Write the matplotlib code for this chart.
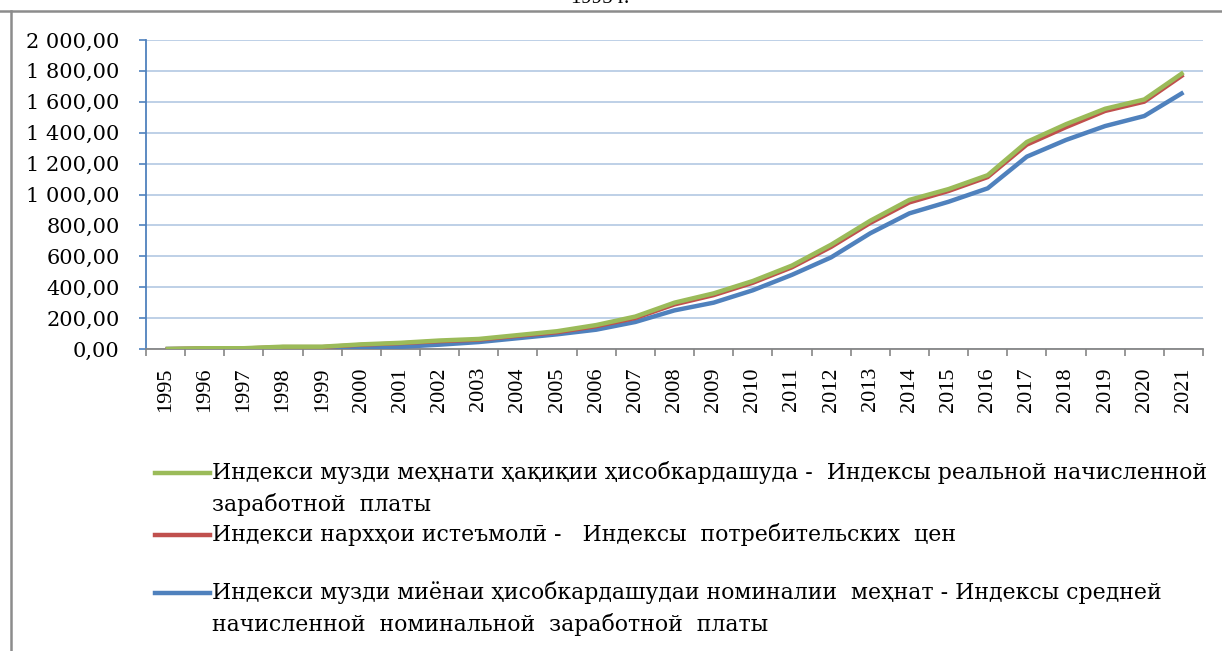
import matplotlib
matplotlib.use("Agg")
import matplotlib.pyplot as plt
from matplotlib.lines import Line2D
from matplotlib.ticker import FuncFormatter, FixedLocator

years = [str(y) for y in range(1995, 2022)]
real_wage = [0, 5, 5, 15, 15, 30, 40, 55, 65, 90, 115, 155, 210, 300, 360, 440,
             540, 675, 830, 965, 1035, 1125, 1340, 1455, 1555, 1615, 1790]
cpi = [0, 4, 4, 13, 13, 27, 37, 50, 60, 85, 108, 147, 200, 288, 348, 428,
       528, 660, 815, 948, 1022, 1112, 1322, 1435, 1540, 1600, 1775]
nominal_wage = [0, 1, 1, 3, 4, 8, 14, 28, 45, 70, 95, 125, 175, 250, 300, 380,
                480, 593, 749, 878, 953, 1040, 1245, 1353, 1443, 1508, 1661]

labels = [
    "Индекси музди меҳнати ҳақиқии ҳисобкардашуда -  Индексы реальной начисленной\nзаработной  платы",
    "Индекси нархҳои истеъмолӣ -   Индексы  потребительских  цен",
    "Индекси музди миёнаи ҳисобкардашудаи номиналии  меҳнат - Индексы средней\nначисленной  номинальной  заработной  платы",
]
colors = ["#9bbb59", "#c0504d", "#4f81bd"]

serif = ["Liberation Serif", "DejaVu Serif"]
wide_serif = ["DejaVu Serif"]

fig = plt.figure(figsize=(12.22, 6.51), dpi=100)
ax = fig.add_axes([146/1222, 1-349/651, (1203-146)/1222, (349-40)/651])

x = list(range(len(years)))
ax.plot(x, nominal_wage, color=colors[2], lw=3.2, solid_capstyle="butt", zorder=3)
ax.plot(x, cpi, color=colors[1], lw=3.0, solid_capstyle="butt", zorder=4)
ax.plot(x, real_wage, color=colors[0], lw=3.2, solid_capstyle="butt", zorder=5)

ax.set_xlim(-0.5, len(years) - 0.5)
ax.set_ylim(0, 2000)
ax.set_yticks(range(0, 2001, 200))

def fmt(v, pos):
    s = f"{v:,.2f}"
    return s.replace(",", " ").replace(".", ",")
ax.yaxis.set_major_formatter(FuncFormatter(fmt))

ax.set_xticks(x)
ax.set_xticklabels(years, rotation=90, fontfamily=serif, fontsize=16)
ax.xaxis.set_minor_locator(FixedLocator([i - 0.5 for i in range(len(years) + 1)]))
ax.tick_params(axis="x", which="major", length=0, pad=13)
ax.tick_params(axis="x", which="minor", length=5, color="#868686", width=1.2)
ax.tick_params(axis="y", length=5, color="#4f81bd", width=1.2, pad=14)
for lab in ax.get_yticklabels():
    lab.set_fontfamily(wide_serif)
    lab.set_fontsize(15)

ax.grid(axis="y", color="#b9cde5", lw=1.3)
ax.set_axisbelow(True)
for s in ["top", "right"]:
    ax.spines[s].set_visible(False)
ax.spines["left"].set_color("#4f81bd")
ax.spines["left"].set_linewidth(1.3)
ax.spines["bottom"].set_color("#868686")
ax.spines["bottom"].set_linewidth(1.3)

# frame lines
fig.add_artist(Line2D([0, 1], [1-10.5/651]*2, color="#8c8c8c", lw=1.8, transform=fig.transFigure))
fig.add_artist(Line2D([10.5/1222]*2, [0, 1-10.5/651], color="#8c8c8c", lw=1.8, transform=fig.transFigure))

# partially clipped title (cut off at the top edge, as in the reference)
fig.text(600/1222, 1-3/651, "1995 г.", ha="center", va="baseline", fontfamily=serif, fontsize=15)

# legend
entries_y = [473, 535, 593]
for lab, col, yy in zip(labels, colors, entries_y):
    yf = 1 - yy/651
    fig.add_artist(Line2D([155/1222, 210/1222], [yf, yf], color=col, lw=3.2, transform=fig.transFigure))
    for k, ln in enumerate(lab.split("\n")):
        fig.text(212/1222, 1 - (yy + 32*k)/651, ln, ha="left", va="center",
                 fontfamily=wide_serif, fontsize=15.8)

fig.savefig("out.png", dpi=100)
